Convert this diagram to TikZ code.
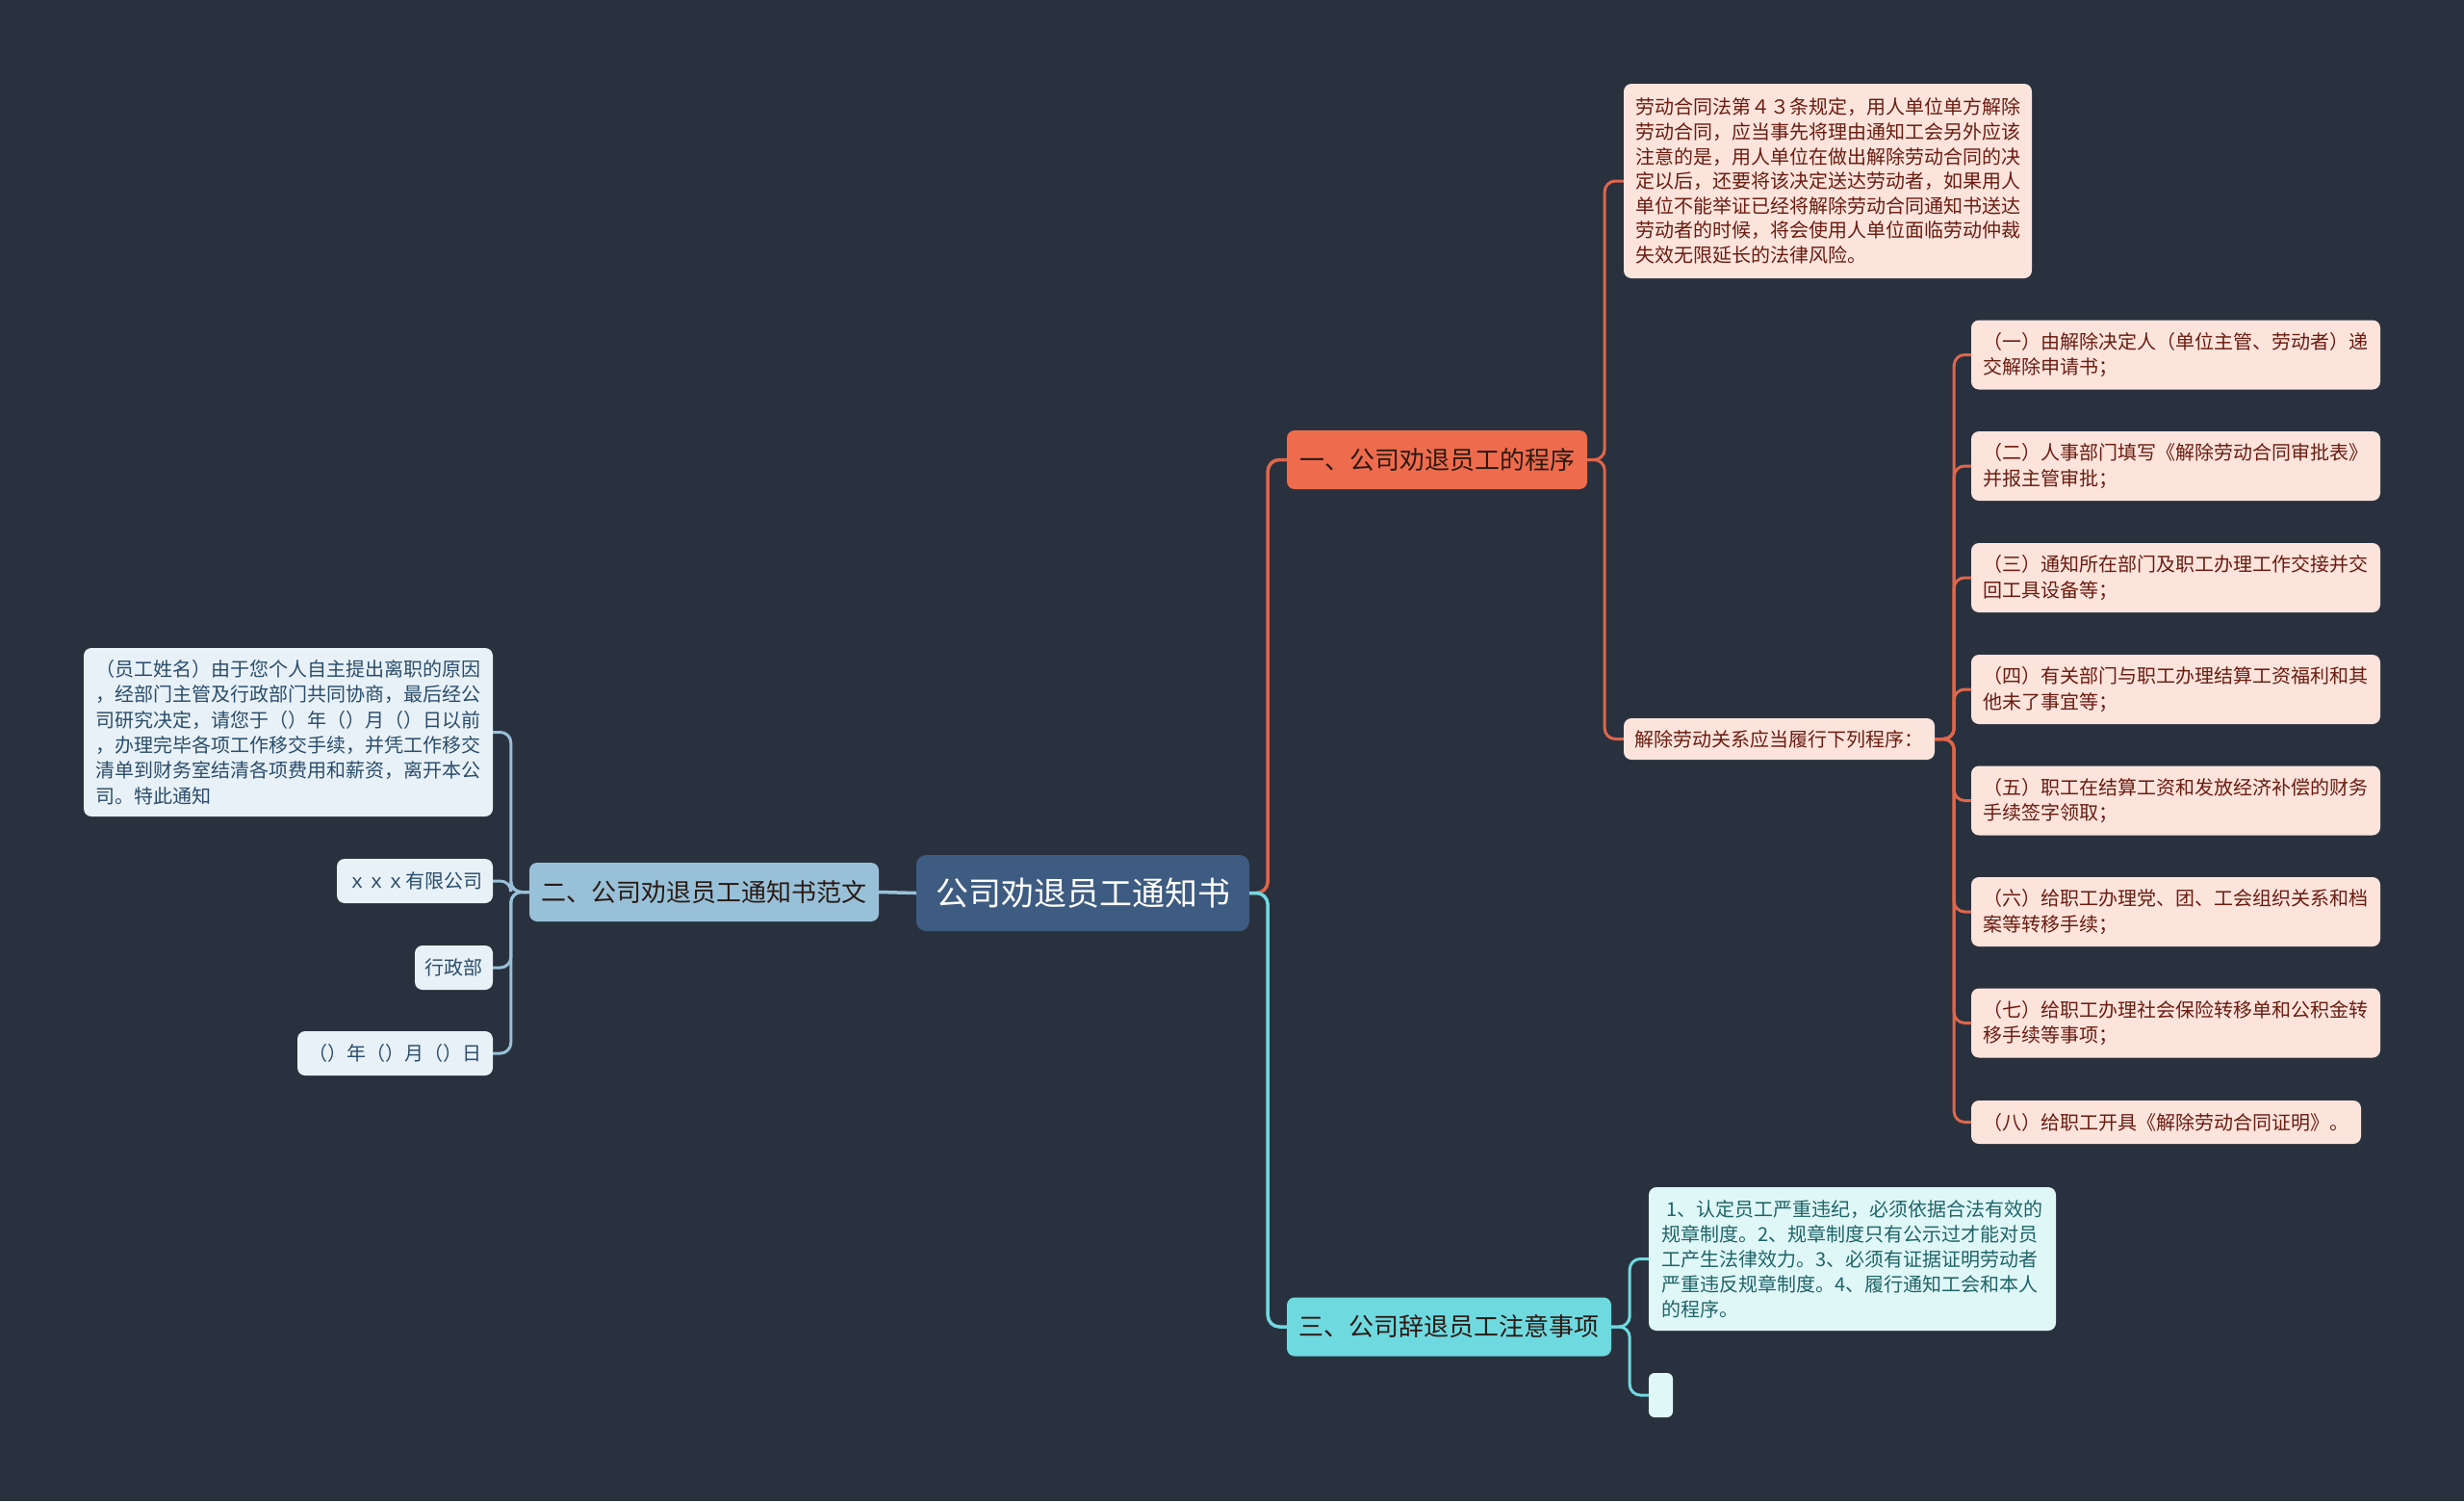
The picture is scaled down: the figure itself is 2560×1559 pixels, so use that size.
\documentclass[tikz,border=0pt]{standalone}
\usepackage{fontspec}
\setmainfont{Noto Sans CJK SC}
\definecolor{bg}{HTML}{29313F}
\definecolor{rootc}{HTML}{3E5B81}
\definecolor{orangec}{HTML}{EE6C4D}
\definecolor{orangeline}{HTML}{E0664A}
\definecolor{lblue}{HTML}{98C1D9}
\definecolor{cyanc}{HTML}{6FD9E0}
\definecolor{pinkfill}{HTML}{FCE4DC}
\definecolor{pinktext}{HTML}{6A1C10}
\definecolor{bluefill}{HTML}{E8F1F7}
\definecolor{bluetext}{HTML}{2A4D6B}
\definecolor{cyanfill}{HTML}{E0F7F8}
\definecolor{cyantext}{HTML}{1E6468}
\definecolor{darktext}{HTML}{2A1A14}
\begin{document}
\begin{tikzpicture}[x=1pt,y=-1pt,
  base/.style={rounded corners=8pt, inner sep=0pt, align=left, font=\fontsize{20}{26}\selectfont},
  pinkbox/.style={base, fill=pinkfill, text=pinktext},
  bluebox/.style={base, fill=bluefill, text=bluetext},
  cyanbox/.style={base, fill=cyanfill, text=cyantext},
  itembox/.style={pinkbox, minimum width=425pt, minimum height=72pt, font=\fontsize{20}{26.7}\selectfont},
  branch/.style={rounded corners=8pt, inner sep=0pt, minimum height=61pt, font=\fontsize{26}{30}\selectfont},
  conn/.style={line width=3pt, rounded corners=11pt},
  mainconn/.style={line width=3.5pt, rounded corners=12pt}
]
\useasboundingbox[fill=bg] (0,0) rectangle (2560,1559);

% root
\node[rounded corners=10pt, inner sep=0pt, fill=rootc, text=white, minimum width=346pt, minimum height=79pt,
      font=\fontsize{34}{40}\selectfont] (root) at (1125,927.5) {公司劝退员工通知书};

% branches
\node[branch, fill=orangec, text=darktext, minimum width=312pt] (b1) at (1493,477.5) {一、公司劝退员工的程序};
\node[branch, fill=lblue, text=darktext, minimum width=363pt] (b2) at (731.5,926.5) {二、公司劝退员工通知书范文};
\node[branch, fill=cyanc, text=darktext, minimum width=337pt] (b3) at (1505.5,1378) {三、公司辞退员工注意事项};

% branch 1 children
\node[pinkbox, minimum width=424pt, minimum height=202pt, font=\fontsize{20}{25.6}\selectfont] (p1) at (1899,188) {%
劳动合同法第４３条规定，用人单位单方解除\\
劳动合同，应当事先将理由通知工会另外应该\\
注意的是，用人单位在做出解除劳动合同的决\\
定以后，还要将该决定送达劳动者，如果用人\\
单位不能举证已经将解除劳动合同通知书送达\\
劳动者的时候，将会使用人单位面临劳动仲裁\\
失效无限延长的法律风险。};
\node[pinkbox, minimum width=323pt, minimum height=43pt] (sub) at (1848.5,767.5) {解除劳动关系应当履行下列程序：};

\node[itembox] (it1) at (2260.5,368.5) {（一）由解除决定人（单位主管、劳动者）递\\交解除申请书；};
\node[itembox] (it2) at (2260.5,484) {（二）人事部门填写《解除劳动合同审批表》\\并报主管审批；};
\node[itembox] (it3) at (2260.5,600) {（三）通知所在部门及职工办理工作交接并交\\回工具设备等；};
\node[itembox] (it4) at (2260.5,716) {（四）有关部门与职工办理结算工资福利和其\\他未了事宜等；};
\node[itembox] (it5) at (2260.5,831.5) {（五）职工在结算工资和发放经济补偿的财务\\手续签字领取；};
\node[itembox] (it6) at (2260.5,947) {（六）给职工办理党、团、工会组织关系和档\\案等转移手续；};
\node[itembox] (it7) at (2260.5,1062.5) {（七）给职工办理社会保险转移单和公积金转\\移手续等事项；};
\node[pinkbox, minimum width=405pt, minimum height=45pt] (it8) at (2250.5,1165.5) {（八）给职工开具《解除劳动合同证明》。};

% branch 2 children
\node[bluebox, minimum width=425pt, minimum height=175pt, font=\fontsize{20}{26.3}\selectfont] (p2) at (299.5,760.5) {%
（员工姓名）由于您个人自主提出离职的原因\\
，经部门主管及行政部门共同协商，最后经公\\
司研究决定，请您于（）年（）月（）日以前\\
，办理完毕各项工作移交手续，并凭工作移交\\
清单到财务室结清各项费用和薪资，离开本公\\
司。特此通知};
\node[bluebox, minimum width=162pt, minimum height=46pt] (c1) at (431,915) {ｘｘｘ有限公司};
\node[bluebox, minimum width=81pt, minimum height=46pt] (c2) at (471.5,1005) {行政部};
\node[bluebox, minimum width=203pt, minimum height=46pt] (c3) at (410.5,1094) {（）年（）月（）日};

% branch 3 children
\node[cyanbox, minimum width=423pt, minimum height=149pt, font=\fontsize{20}{26}\selectfont] (p3) at (1924.5,1307.5) {%
\ 1、认定员工严重违纪，必须依据合法有效的\\
规章制度。2、规章制度只有公示过才能对员\\
工产生法律效力。3、必须有证据证明劳动者\\
严重违反规章制度。4、履行通知工会和本人\\
的程序。};
\node[cyanbox, minimum width=25pt, minimum height=46pt, rounded corners=6pt] (e1) at (1725.5,1449) {};

% connectors
\draw[mainconn, lblue] (root.west) -- (b2.east);
\draw[mainconn, orangeline] (root.east) -- ++(19,0) |- (b1.west);
\draw[mainconn, cyanc] (root.east) -- ++(19,0) |- (b3.west);

\draw[conn, orangeline] (b1.east) -- ++(18,0) |- (p1.west);
\draw[conn, orangeline] (b1.east) -- ++(18,0) |- (sub.west);

\foreach \i in {1,...,8}
  \draw[conn, orangeline] (sub.east) -- ++(20,0) |- (it\i.west);

\foreach \n in {p2,c1,c2,c3}
  \draw[conn, lblue] (b2.west) -- ++(-19,0) |- (\n.east);

\draw[conn, cyanc] (b3.east) -- ++(19,0) |- (p3.west);
\draw[conn, cyanc] (b3.east) -- ++(19,0) |- (e1.west);
\end{tikzpicture}
\end{document}
